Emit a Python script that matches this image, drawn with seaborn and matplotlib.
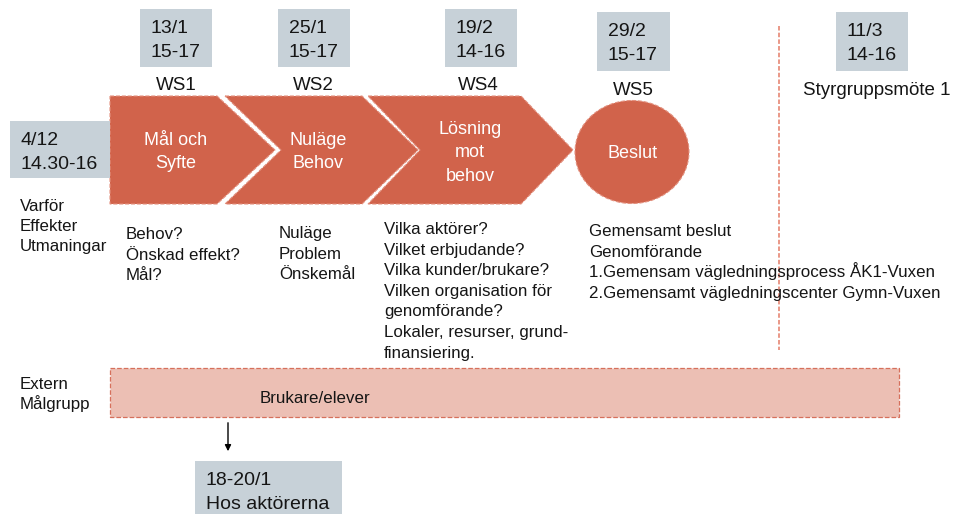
import numpy as np
import seaborn as sns
import matplotlib.pyplot as plt
from matplotlib.patches import Polygon, Ellipse, Rectangle

# content
date_labels = ['13/1\n15-17', '25/1\n15-17', '19/2\n14-16', '29/2\n15-17', '11/3\n14-16',
               '4/12\n14.30-16', '18-20/1\nHos aktörerna']
step_names = ['WS1', 'WS2', 'WS4', 'WS5', 'Styrgruppsmöte 1']
shape_texts = ['Mål och\nSyfte', 'Nuläge\nBehov', 'Lösning\nmot\nbehov', 'Beslut']
questions = [
    'Behov?\nÖnskad effekt?\nMål?',
    'Nuläge\nProblem\nÖnskemål',
    'Vilka aktörer?\nVilket erbjudande?\nVilka kunder/brukare?\nVilken organisation för\n'
    'genomförande?\nLokaler, resurser, grund-\nfinansiering.',
    'Gemensamt beslut\nGenomförande\n1.Gemensam vägledningsprocess ÅK1-Vuxen\n'
    '2.Gemensamt vägledningscenter Gymn-Vuxen',
]
side_labels = ['Varför\nEffekter\nUtmaningar', 'Extern\nMålgrupp']
band_label = 'Brukare/elever'

# layout (pixel coords, y down)
box_xywh = [(140, 9, 72, 58), (278, 9, 72, 58), (445, 9, 72, 58), (597, 12, 73, 59),
            (836, 12, 72, 59), (10, 121, 100, 57), (195, 461, 147, 53)]
name_xy = [(176, 83, 'center'), (313, 83, 'center'), (478, 83, 'center'),
           (633, 88, 'center'), (803, 88, 'left')]
question_xy = [(126, 233), (279, 232), (384, 228), (589, 230)]
side_xy = [(20, 205), (20, 383)]
chevrons = [(110, 217, 275, False), (225, 362, 418, True), (368, 521, 573, True)]
shape_centers = [(176, 150), (318, 150), (470, 151), (633, 152)]

sns.set_theme(style='white')
plt.rcParams['font.family'] = ['Liberation Sans', 'DejaVu Sans']

main = '#D1634B'
edge = '#E3907E'
grey = '#C7D1D8'
ink = '#151515'

fig = plt.figure(figsize=(9.54, 5.14), dpi=100)
ax = fig.add_axes([0, 0, 1, 1])
ax.set_xlim(0, 954)
ax.set_ylim(514, 0)
ax.axis('off')


def lines_at(x, y0, text, step, ha='left', fontsize=12, **kw):
    # one text per line on a fixed baseline grid, y0 = centre of first line's caps
    half_cap = 0.5 * 0.716 * fontsize * 100 / 72
    for i, line in enumerate(text.split('\n')):
        ax.text(x, y0 + i * step + half_cap, line, ha=ha, va='baseline',
                fontsize=fontsize, **kw)


top, mid, bot = 96, 150, 204
for left, right, tip, notch in chevrons:
    pts = [(left, top), (right, top), (tip, mid), (right, bot), (left, bot)]
    if notch:
        pts.append((left + (tip - right), mid))
    ax.add_patch(Polygon(pts, closed=True, facecolor=main, edgecolor=edge,
                         linestyle='--', lw=0.8))
ax.add_patch(Ellipse((632, 152), 114, 103, facecolor=main, edgecolor=edge,
                     linestyle='--', lw=0.8))

for (cx, cy), t in zip(shape_centers, shape_texts):
    n = t.count('\n')
    lines_at(cx, cy - n * 23.5 / 2, t, 23.5, ha='center', color='white', fontsize=13)

for (x, y, w, h), t in zip(box_xywh, date_labels):
    ax.add_patch(Rectangle((x, y), w, h, facecolor=grey, edgecolor='none'))
    lines_at(x + 11, y + 17, t, 24, color=ink, fontsize=14)

for (x, y, ha), t in zip(name_xy, step_names):
    lines_at(x, y, t, 0, ha=ha, color=ink, fontsize=13.5)

for (x, y), t in zip(question_xy, questions):
    lines_at(x, y, t, 20.6, color=ink, fontsize=12.2)

for (x, y), t in zip(side_xy, side_labels):
    lines_at(x, y, t, 20.2, color=ink, fontsize=12.2)

# Brukare band
ax.add_patch(Rectangle((110, 368), 789, 49, facecolor='#ECBFB4', edgecolor='#D6705C',
                       linestyle='--', lw=0.9))
lines_at(260, 397, band_label, 0, color=ink, fontsize=12.2)

# separator
ax.plot([779, 779], [26, 350], color='#E8907E', ls=(0, (2.5, 1.2)), lw=1.3)

# arrow down
ax.annotate('', xy=(228, 454), xytext=(228, 420),
            arrowprops=dict(arrowstyle='-|>', color='black', lw=1.0, mutation_scale=9))

fig.savefig('out.png', dpi=100)
